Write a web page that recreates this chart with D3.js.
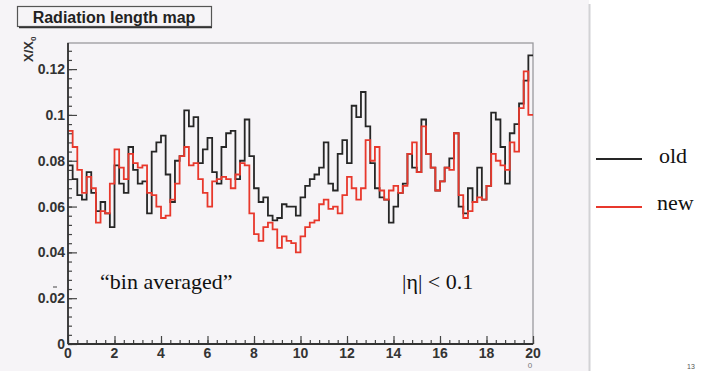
<!DOCTYPE html>
<html>
<head>
<meta charset="utf-8">
<script src="https://cdn.jsdelivr.net/npm/d3@7"></script>
<style>
  body { margin: 0; background: #fff; }
  svg { display: block; }
</style>
</head>
<body>
<div class="chart"></div>
<script>
// Histogram bin edges: 100 bins over 0..20.
var binStart = 0, binWidth = 0.2;

// X/X0 per bin, "old" geometry (black).
var oldValues = [
  0.078, 0.072, 0.065, 0.063, 0.075, 0.066, 0.058, 0.062, 0.057, 0.051,
  0.078, 0.070, 0.066, 0.086, 0.076, 0.070, 0.071, 0.057, 0.084, 0.088,
  0.091, 0.074, 0.062, 0.080, 0.082, 0.102, 0.095, 0.099, 0.079, 0.085,
  0.090, 0.075, 0.070, 0.086, 0.092, 0.093, 0.072, 0.080, 0.098, 0.082,
  0.068, 0.062, 0.064, 0.056, 0.054, 0.055, 0.061, 0.060, 0.060, 0.056,
  0.064, 0.069, 0.072, 0.074, 0.077, 0.088, 0.070, 0.067, 0.083, 0.089,
  0.079, 0.104, 0.099, 0.110, 0.095, 0.079, 0.068, 0.064, 0.063, 0.053,
  0.060, 0.066, 0.070, 0.083, 0.077, 0.075, 0.098, 0.083, 0.077, 0.067,
  0.071, 0.077, 0.081, 0.092, 0.060, 0.057, 0.068, 0.062, 0.077, 0.063,
  0.069, 0.101, 0.098, 0.086, 0.070, 0.092, 0.096, 0.105, 0.115, 0.126
];

// X/X0 per bin, "new" geometry (red).
var newValues = [
  0.093, 0.086, 0.076, 0.066, 0.073, 0.068, 0.053, 0.058, 0.057, 0.070,
  0.085, 0.077, 0.072, 0.083, 0.079, 0.077, 0.078, 0.066, 0.065, 0.060,
  0.055, 0.056, 0.063, 0.070, 0.082, 0.086, 0.078, 0.079, 0.072, 0.066,
  0.060, 0.071, 0.072, 0.073, 0.072, 0.068, 0.074, 0.079, 0.078, 0.057,
  0.048, 0.045, 0.051, 0.053, 0.050, 0.042, 0.047, 0.045, 0.044, 0.040,
  0.047, 0.051, 0.053, 0.054, 0.061, 0.063, 0.059, 0.060, 0.057, 0.065,
  0.073, 0.068, 0.063, 0.068, 0.089, 0.080, 0.086, 0.067, 0.063, 0.067,
  0.069, 0.066, 0.069, 0.083, 0.088, 0.075, 0.095, 0.083, 0.077, 0.067,
  0.071, 0.077, 0.076, 0.092, 0.065, 0.055, 0.058, 0.062, 0.064, 0.063,
  0.069, 0.083, 0.080, 0.078, 0.076, 0.088, 0.084, 0.103, 0.119, 0.100
];

var xTicks = [0, 2, 4, 6, 8, 10, 12, 14, 16, 18, 20];
var yTicks = [0, 0.02, 0.04, 0.06, 0.08, 0.1, 0.12];
var legendNames = ["old", "new"];
var legendColors = ["#262626", "#e8382c"];

var w = 704, h = 371;
var frame = { left: 68, right: 533, top: 43, bottom: 344 };

var svg = d3.select(".chart").append("svg")
  .attr("width", w)
  .attr("height", h);

// ROOT canvas background and its right edge.
svg.append("rect")
  .attr("x", 0).attr("y", 0)
  .attr("width", 589).attr("height", h)
  .attr("fill", "#f6f4f7");
svg.append("line")
  .attr("x1", 589.5).attr("x2", 589.5)
  .attr("y1", 4).attr("y2", h)
  .attr("stroke", "#d2d2d5").attr("stroke-width", 2);

var xScale = d3.scaleLinear().domain([0, 20]).range([frame.left, frame.right]);
var yScale = d3.scaleLinear().domain([0, 0.1314]).range([frame.bottom, frame.top]);

// Frame box.
svg.append("rect")
  .attr("x", frame.left).attr("y", frame.top)
  .attr("width", frame.right - frame.left)
  .attr("height", frame.bottom - frame.top)
  .attr("fill", "#f6f4f7")
  .attr("stroke", "#9a9a9e")
  .attr("stroke-width", 1.3);

// Step outline of a histogram.
function stepPath(values) {
  var pts = [];
  values.forEach(function(v, i) {
    var x0 = binStart + i * binWidth;
    pts.push([x0, v]);
    pts.push([x0 + binWidth, v]);
  });
  return d3.line()
    .x(function(d) { return xScale(d[0]); })
    .y(function(d) { return yScale(d[1]); })(pts);
}

svg.append("path")
  .attr("d", stepPath(oldValues))
  .attr("fill", "none")
  .attr("stroke", legendColors[0])
  .attr("stroke-width", 1.8);

svg.append("path")
  .attr("d", stepPath(newValues))
  .attr("fill", "none")
  .attr("stroke", legendColors[1])
  .attr("stroke-width", 1.8);

// Axes: ticks drawn inward, ROOT style.
var xAxis = d3.axisTop(xScale)
  .tickValues(d3.range(0, 20.001, 0.4))
  .tickSize(4)
  .tickFormat("");
svg.append("g")
  .attr("transform", "translate(0," + frame.bottom + ")")
  .call(xAxis)
  .call(function(g) { g.select(".domain").remove(); });

var xMajor = d3.axisTop(xScale)
  .tickValues(xTicks)
  .tickSize(8)
  .tickFormat("");
svg.append("g")
  .attr("transform", "translate(0," + frame.bottom + ")")
  .call(xMajor)
  .call(function(g) { g.select(".domain").remove(); });

var yAxis = d3.axisRight(yScale)
  .tickValues(d3.range(0, 0.1301, 0.004))
  .tickSize(4)
  .tickFormat("");
svg.append("g")
  .attr("transform", "translate(" + frame.left + ",0)")
  .call(yAxis)
  .call(function(g) { g.select(".domain").remove(); });

var yMajor = d3.axisRight(yScale)
  .tickValues(yTicks)
  .tickSize(9)
  .tickFormat("");
svg.append("g")
  .attr("transform", "translate(" + frame.left + ",0)")
  .call(yMajor)
  .call(function(g) { g.select(".domain").remove(); });

svg.selectAll(".tick line").attr("stroke", "#444").attr("stroke-width", 1.2);

// Axis lines.
svg.append("line")
  .attr("x1", frame.left).attr("x2", frame.right)
  .attr("y1", frame.bottom).attr("y2", frame.bottom)
  .attr("stroke", "#333").attr("stroke-width", 1.8);
svg.append("line")
  .attr("x1", frame.left).attr("x2", frame.left)
  .attr("y1", frame.top).attr("y2", frame.bottom)
  .attr("stroke", "#333").attr("stroke-width", 1.8);

// Tick labels.
var labelFont = "Liberation Sans, Arial, sans-serif";
svg.selectAll(".xlab")
  .data(xTicks)
  .enter()
  .append("text")
  .attr("x", function(d) { return xScale(d); })
  .attr("y", frame.bottom + 14)
  .attr("text-anchor", "middle")
  .style("font-family", labelFont)
  .style("font-weight", "bold")
  .style("font-size", "14px")
  .attr("fill", "#333")
  .text(function(d) { return d; });

svg.selectAll(".ylab")
  .data(yTicks)
  .enter()
  .append("text")
  .attr("x", frame.left - 3)
  .attr("y", function(d) { return yScale(d) + 5; })
  .attr("text-anchor", "end")
  .style("font-family", labelFont)
  .style("font-weight", "bold")
  .style("font-size", "14px")
  .attr("fill", "#333")
  .text(function(d) { return d === 0 ? "0" : d3.format("~g")(d); });

// Y title X/X0, rotated.
var yTitle = svg.append("text")
  .attr("transform", "translate(33,62) rotate(-90)")
  .style("font-family", labelFont)
  .style("font-weight", "bold")
  .style("font-size", "13px")
  .attr("fill", "#333");
yTitle.append("tspan").text("X/X");
yTitle.append("tspan").attr("dy", 3).style("font-size", "8px").text("0");

// Stray x title fragment below the axis end.
svg.append("text")
  .attr("x", 530).attr("y", 368)
  .attr("text-anchor", "middle")
  .style("font-family", labelFont)
  .style("font-size", "8px")
  .attr("fill", "#777")
  .text("0");

// Title box.
svg.append("rect")
  .attr("x", 17.5).attr("y", 6.5)
  .attr("width", 194).attr("height", 20)
  .attr("fill", "#f6f4f7")
  .attr("stroke", "#555")
  .attr("stroke-width", 1.2);
svg.append("line")
  .attr("x1", 19).attr("x2", 212)
  .attr("y1", 27.5).attr("y2", 27.5)
  .attr("stroke", "#333").attr("stroke-width", 1.5);
svg.append("text")
  .attr("x", 114).attr("y", 22.5)
  .attr("text-anchor", "middle")
  .style("font-family", labelFont)
  .style("font-weight", "bold")
  .style("font-size", "16px")
  .attr("fill", "#222")
  .text("Radiation length map");

// Annotations.
var serif = "Liberation Serif, Times New Roman, serif";
svg.append("text")
  .attr("x", 100).attr("y", 289)
  .style("font-family", serif)
  .style("font-size", "22px")
  .attr("fill", "#111")
  .text("\u201Cbin averaged\u201D");
svg.append("text")
  .attr("x", 402).attr("y", 289)
  .style("font-family", serif)
  .style("font-size", "22px")
  .attr("fill", "#111")
  .text("|\u03B7| < 0.1");

// Small mark left of the frame.
svg.append("line")
  .attr("x1", 53).attr("x2", 57)
  .attr("y1", 287).attr("y2", 287)
  .attr("stroke", "#444").attr("stroke-width", 1);

// Legend.
var legend = svg.selectAll(".legend")
  .data(legendNames)
  .enter()
  .append("g")
  .attr("transform", function(d, i) { return "translate(596," + (159 + i * 48) + ")"; });
legend.append("line")
  .attr("x1", 0).attr("x2", 46)
  .attr("stroke", function(d, i) { return legendColors[i]; })
  .attr("stroke-width", 2);
legend.append("text")
  .attr("x", function(d, i) { return i === 0 ? 63 : 61; })
  .attr("y", function(d, i) { return i === 0 ? 4 : 3; })
  .style("font-family", serif)
  .style("font-size", "22px")
  .attr("fill", "#111")
  .text(function(d) { return d; });

// Slide page number.
svg.append("text")
  .attr("x", 691).attr("y", 369)
  .attr("text-anchor", "middle")
  .style("font-family", labelFont)
  .style("font-size", "7px")
  .attr("fill", "#555")
  .text("13");
</script>
</body>
</html>
